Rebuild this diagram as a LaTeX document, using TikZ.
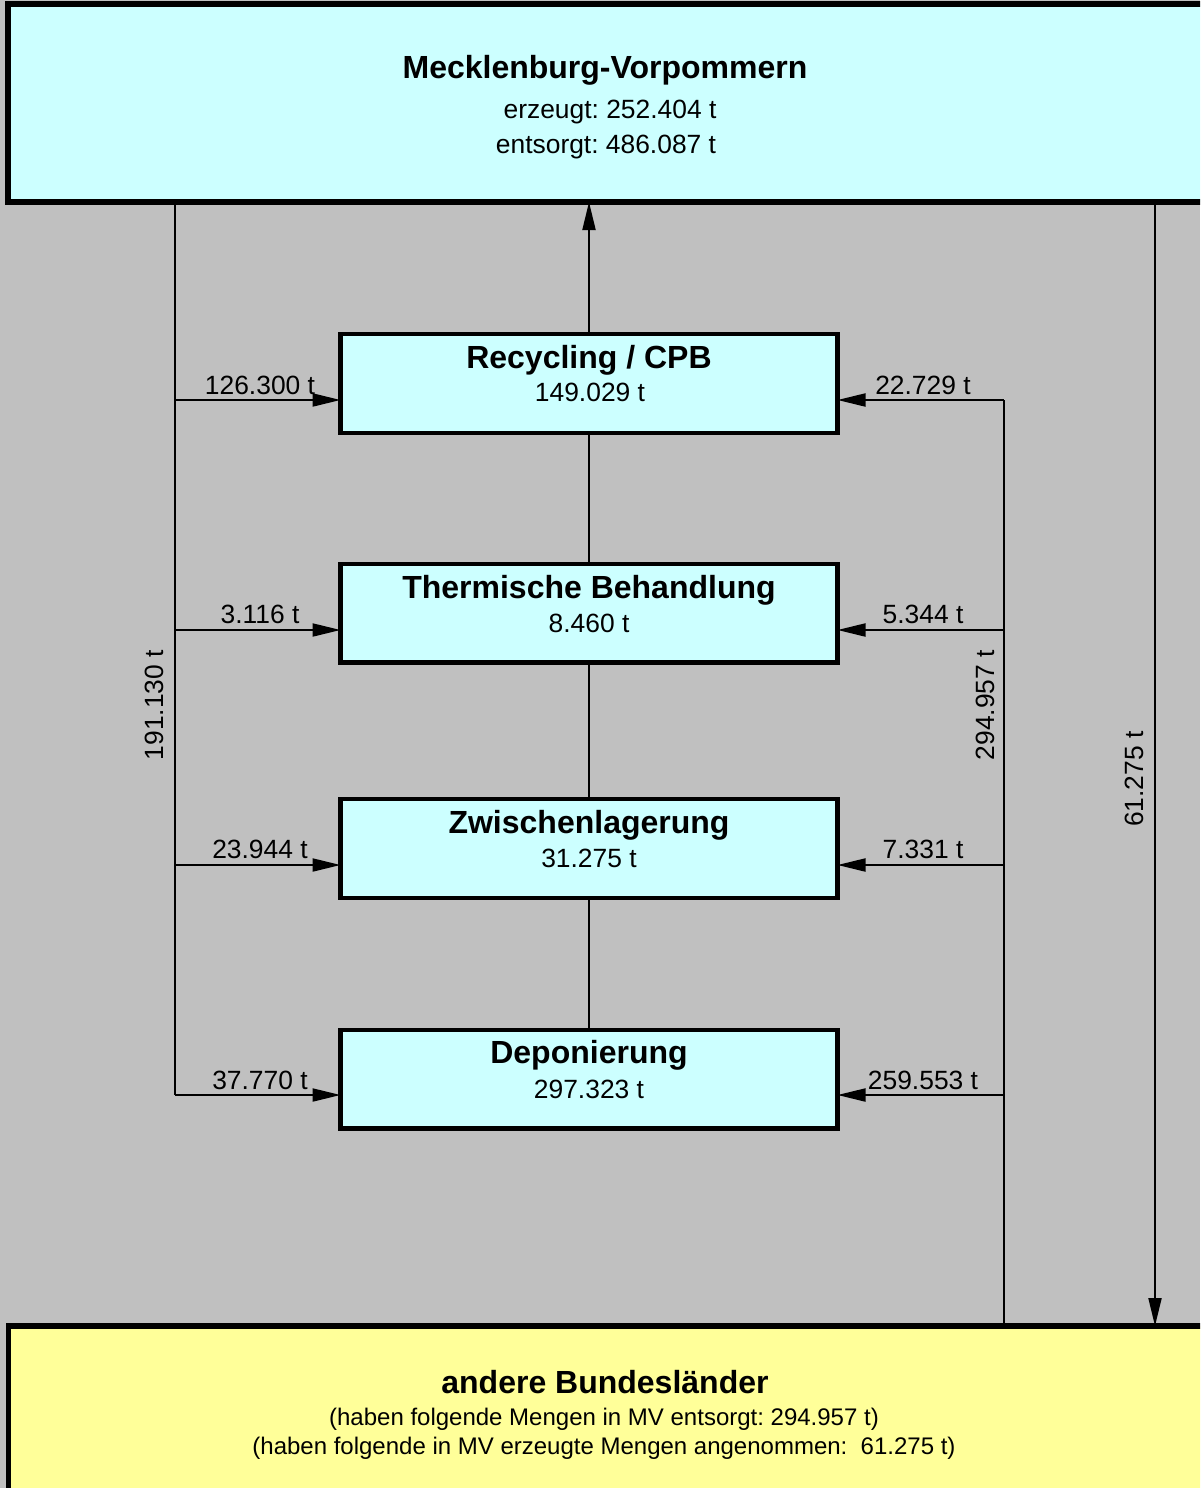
\documentclass[tikz,border=0pt]{standalone}
\usepackage{fontspec}
\setmainfont{Liberation Sans}
\usetikzlibrary{arrows.meta}
\definecolor{bg}{HTML}{C0C0C0}
\definecolor{cyanbox}{HTML}{CCFFFF}
\definecolor{yelbox}{HTML}{FFFF99}
\tikzset{
  bigbox/.style={draw=black, line width=2.6pt, inner sep=0pt, outer sep=0pt},
  smallbox/.style={draw=black, fill=cyanbox, line width=2.2pt, inner sep=0pt, outer sep=0pt,
     minimum width=248.5pt, minimum height=49.3pt},
  conn/.style={line width=1pt, draw=black},
  arr/.style={conn, -{Triangle[length=14pt,width=6.5pt]}},
  titletext/.style={font=\fontsize{16}{18}\selectfont\bfseries, anchor=base, inner sep=0pt},
  valtext/.style={font=\fontsize{13.2}{15}\selectfont, anchor=base, inner sep=0pt},
  smalltext/.style={font=\fontsize{12}{14}\selectfont, anchor=base, inner sep=0pt},
  rottext/.style={font=\fontsize{13.2}{15}\selectfont, rotate=90, inner sep=0pt},
}
\begin{document}
\frenchspacing
\begin{tikzpicture}[x=0.5pt, y=-0.5pt]
\useasboundingbox (0,0) rectangle (1200,1488);
\fill[bg] (0,0) rectangle (1200,1488);
\begin{scope}
\clip (0,0) rectangle (1200,1488);
% large boxes
\node[bigbox, fill=cyanbox, minimum width=601pt, minimum height=99pt] (mv) at (609,103) {};
\node[bigbox, fill=yelbox, minimum width=601pt, minimum height=100pt] (ab) at (609.5,1426) {};
\end{scope}
% texts of MV
\node[titletext] (mvt) at (605,78) {Mecklenburg-Vorpommern};
\node[valtext] (mv1) at (610,118) {erzeugt: 252.404 t};
\node[valtext] (mv2) at (606,153) {entsorgt: 486.087 t};
% texts of bottom box
\node[titletext] (abt) at (605,1393) {andere Bundesländer};
\node[smalltext] (ab1) at (604,1425) {(haben folgende Mengen in MV entsorgt: 294.957 t)};
\node[smalltext] (ab2) at (604,1454) {(haben folgende in MV erzeugte Mengen angenommen:\ \ 61.275 t)};

% small boxes
\node[smallbox] (rec) at (589,383.5) {};
\node[smallbox] (the) at (589,613) {};
\node[smallbox] (zwi) at (589,848.5) {};
\node[smallbox] (dep) at (589,1079) {};
\node[titletext] (rect) at (589,368) {Recycling / CPB};
\node[valtext] (recv) at (590,401) {149.029 t};
\node[titletext] (thet) at (589,598) {Thermische Behandlung};
\node[valtext] (thev) at (589,632) {8.460 t};
\node[titletext] (zwit) at (589,833) {Zwischenlagerung};
\node[valtext] (zwiv) at (589,867) {31.275 t};
\node[titletext] (dept) at (589,1063) {Deponierung};
\node[valtext] (depv) at (589,1098) {297.323 t};

% coordinates
\coordinate (lt) at (175,203);
\coordinate (l1) at (175,400);
\coordinate (l2) at (175,630);
\coordinate (l3) at (175,865);
\coordinate (l4) at (175,1095);
\coordinate (r1) at (1004,400);
\coordinate (r2) at (1004,630);
\coordinate (r3) at (1004,865);
\coordinate (r4) at (1004,1095);
\coordinate (rb) at (1004,1326);
\coordinate (ft) at (1155,203);
\coordinate (fb) at (1155,1326);

% connectors
\draw[arr] (rec.north) -- (rec.north |- mv.south);
\draw[conn] (rec.south) -- (the.north);
\draw[conn] (the.south) -- (zwi.north);
\draw[conn] (zwi.south) -- (dep.north);
\draw[conn] (lt) -- (l4);
\draw[arr] (l1) -- (l1 -| rec.west);
\draw[arr] (l2) -- (l2 -| the.west);
\draw[arr] (l3) -- (l3 -| zwi.west);
\draw[arr] (l4) -- (l4 -| dep.west);
\draw[conn] (rb) -- (r1);
\draw[arr] (r1) -- (r1 -| rec.east);
\draw[arr] (r2) -- (r2 -| the.east);
\draw[arr] (r3) -- (r3 -| zwi.east);
\draw[arr] (r4) -- (r4 -| dep.east);
\draw[arr] (ft) -- (fb);

% labels
\node[valtext] (la1) at (260,394) {126.300 t};
\node[valtext] (la2) at (260,623) {3.116 t};
\node[valtext] (la3) at (260,858) {23.944 t};
\node[valtext] (la4) at (260,1089) {37.770 t};
\node[valtext] (ra1) at (923,394) {22.729 t};
\node[valtext] (ra2) at (923,623) {5.344 t};
\node[valtext] (ra3) at (923,858) {7.331 t};
\node[valtext] (ra4) at (923,1089) {259.553 t};
\node[rottext] (lv) at (154,705) {191.130 t};
\node[rottext] (rv) at (985,705) {294.957 t};
\node[rottext] (fv) at (1134,779) {61.275 t};
\end{tikzpicture}
\end{document}
